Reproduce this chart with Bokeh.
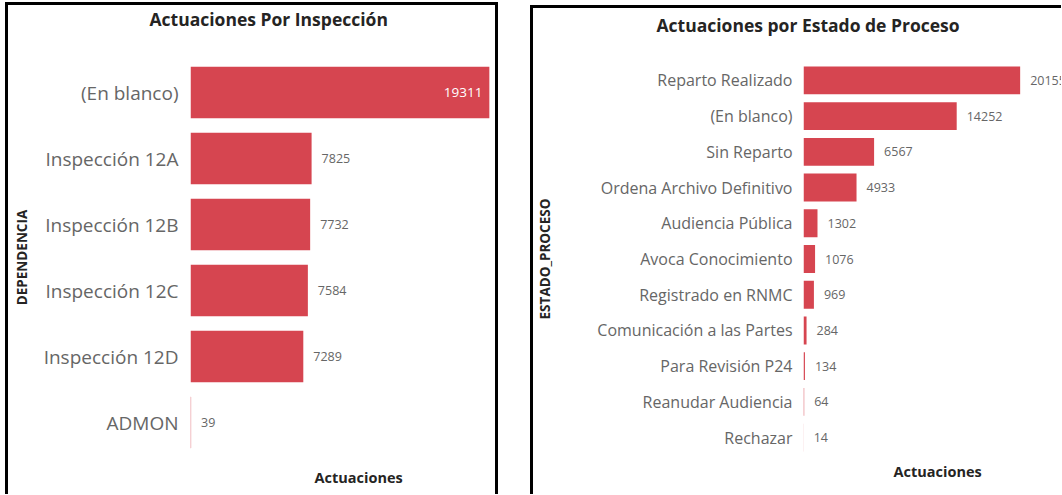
from bokeh.plotting import figure
from bokeh.models import ColumnDataSource, Title, FactorRange, Range1d
from bokeh.layouts import row
from bokeh.embed import file_html
from bokeh.resources import INLINE
from bokeh.core.properties import value

# ---------------- data ----------------
dep_title = "Actuaciones Por Inspección"
dep_axis = "DEPENDENCIA"
dep_categories = ["(En blanco)", "Inspección 12A", "Inspección 12B",
                  "Inspección 12C", "Inspección 12D", "ADMON"]
dep_values = [19311, 7825, 7732, 7584, 7289, 39]

est_title = "Actuaciones por Estado de Proceso"
est_axis = "ESTADO_PROCESO"
est_categories = ["Reparto Realizado", "(En blanco)", "Sin Reparto",
                  "Ordena Archivo Definitivo", "Audiencia Pública",
                  "Avoca Conocimiento", "Registrado en RNMC",
                  "Comunicación a las Partes", "Para Revisión P24",
                  "Reanudar Audiencia", "Rechazar"]
est_values = [20155, 14252, 6567, 4933, 1302, 1076, 969, 284, 134, 64, 14]

x_title = "Actuaciones"

# ---------------- style ----------------
RED = "#D64550"
GREY = "#666666"
DARK = "#252423"
BODY_FONT = "Open Sans"


def spacer(standoff):
    return Title(text=" ", text_font_size="1px", standoff=standoff,
                 vertical_align="middle")


def make_panel(cats, vals, title, ylabel, width, height, mb_left, mb_right,
               x_end, tick_size, tick_standoff, ylabel_standoff,
               title_offset, top_gap, xlabel_offset, bottom_gap,
               borders, margin):
    p = figure(width=width, height=height, output_backend="svg",
               toolbar_location=None, tools="", title=None,
               y_range=FactorRange(factors=list(reversed(cats)), range_padding=0),
               x_range=Range1d(0, x_end),
               min_border_left=mb_left, min_border_right=mb_right,
               min_border_top=0, min_border_bottom=0)
    p.outline_line_color = None
    p.grid.visible = False
    p.background_fill_color = "white"
    p.border_fill_color = "white"

    src = ColumnDataSource(dict(cat=cats, val=vals))
    p.hbar(y="cat", left=0, right="val", height=0.78, source=src,
           fill_color=RED, line_color=None)

    inside = [v > 0.9 * x_end for v in vals]
    out_src = ColumnDataSource(dict(
        cat=[c for c, i in zip(cats, inside) if not i],
        val=[v for v, i in zip(vals, inside) if not i],
        lab=[str(v) for v, i in zip(vals, inside) if not i]))
    in_src = ColumnDataSource(dict(
        cat=[c for c, i in zip(cats, inside) if i],
        val=[v for v, i in zip(vals, inside) if i],
        lab=[str(v) for v, i in zip(vals, inside) if i]))
    p.text(x="val", y="cat", text="lab", source=out_src, x_offset=10,
           text_align="left", text_baseline="middle",
           text_font=value(BODY_FONT), text_font_size="12.5px", text_color=GREY)
    p.text(x="val", y="cat", text="lab", source=in_src, x_offset=-7,
           text_align="right", text_baseline="middle",
           text_font=value(BODY_FONT), text_font_size="13.5px", text_color="white")

    p.xaxis.visible = False
    ax = p.yaxis[0]
    ax.axis_line_color = None
    ax.major_tick_line_color = None
    ax.minor_tick_line_color = None
    ax.major_tick_out = 0
    ax.major_tick_in = 0
    ax.minor_tick_out = 0
    ax.major_label_text_font = BODY_FONT
    ax.major_label_text_font_size = tick_size
    ax.major_label_text_color = GREY
    ax.major_label_standoff = tick_standoff
    ax.axis_label = ylabel
    ax.axis_label_text_font = BODY_FONT
    ax.axis_label_text_font_style = "bold"
    ax.axis_label_text_font_size = "13.5px"
    ax.axis_label_text_color = DARK
    ax.axis_label_standoff = ylabel_standoff

    # above: spacer next to the frame, then the title at the top edge
    p.add_layout(spacer(top_gap), "above")
    p.add_layout(Title(text=title, align="left", vertical_align="middle",
                       offset=title_offset, standoff=0,
                       text_font=BODY_FONT, text_font_style="bold",
                       text_font_size="17.5px", text_color=DARK), "above")

    # below: axis title anchored to the bottom edge
    p.add_layout(Title(text=x_title, align="left", vertical_align="bottom",
                       offset=xlabel_offset, standoff=bottom_gap,
                       text_font=BODY_FONT, text_font_style="bold",
                       text_font_size="14.5px", text_color=DARK), "below")

    st = {b: "3px solid black" for b in borders}
    st["box-sizing"] = "content-box"
    p.styles = st
    p.margin = margin
    return p


p1 = make_panel(dep_categories, dep_values, dep_title, dep_axis,
                width=487, height=489, mb_left=182, mb_right=5, x_end=19773,
                tick_size="19px", tick_standoff=12, ylabel_standoff=10,
                title_offset=-41, top_gap=25,
                xlabel_offset=124, bottom_gap=21,
                borders=["border-left", "border-top", "border-right"],
                margin=(2, 0, 0, 5))

p2 = make_panel(est_categories, est_values, est_title, est_axis,
                width=528, height=486, mb_left=269, mb_right=0, x_end=24280,
                tick_size="16px", tick_standoff=11, ylabel_standoff=40,
                title_offset=-147, top_gap=22,
                xlabel_offset=90, bottom_gap=9,
                borders=["border-left", "border-top"],
                margin=(5, 0, 0, 0))

layout = row(p1, p2, spacing=32)
open("out.html", "w").write(file_html(layout, INLINE))
